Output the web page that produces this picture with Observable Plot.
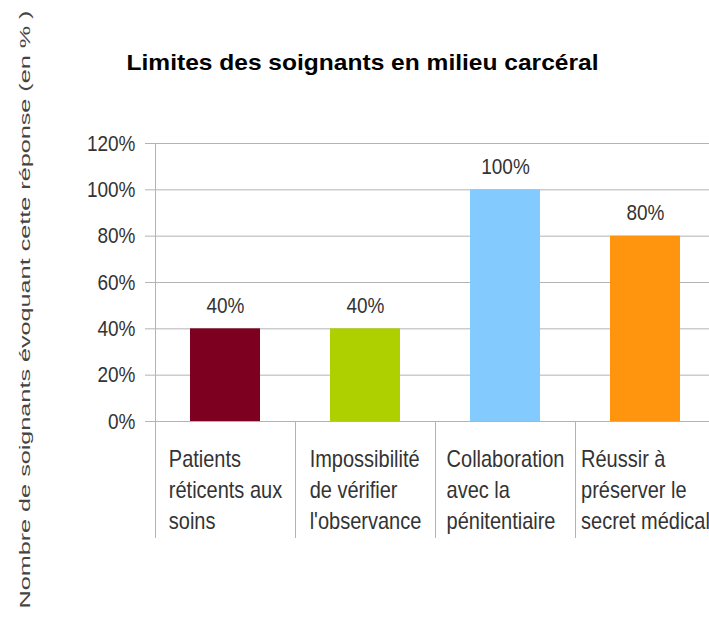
<!DOCTYPE html>
<html><head><meta charset="utf-8">
<script src="https://cdn.jsdelivr.net/npm/d3@7"></script>
<script src="https://cdn.jsdelivr.net/npm/@observablehq/plot@0.6"></script>
<style>
html,body{margin:0;padding:0;background:#fff;overflow:hidden;}
#chart svg{overflow:hidden;display:block;}
</style></head><body><div id="chart"></div>
<script>
const title = "Limites des soignants en milieu carcéral";
const yTitle = "Nombre de soignants évoquant cette réponse (en % )";
const categories = [
  "Patients\nréticents aux\nsoins",
  "Impossibilité\nde vérifier\nl'observance",
  "Collaboration\navec la\npénitentiaire",
  "Réussir à\npréserver le\nsecret médical"
];
const values = [40, 40, 100, 80];
const yTicks = [0, 20, 40, 60, 80, 100, 120];
const palette = ["#7e0021", "#aecf00", "#83caff", "#ff950e"];

const table = categories.map((c, i) => ({category: c, index: i, value: values[i]}));

const labelFont = 20;
const stretch = 1.2;
const ctx = document.createElement("canvas").getContext("2d");
ctx.font = `${labelFont}px "Liberation Sans"`;
const blockWidth = c => d3.max(c.split("\n"), l => ctx.measureText(l).width);

const chart = Plot.plot({
  width: 709, height: 617,
  marginLeft: 155, marginRight: -6, marginTop: 143, marginBottom: 196,
  style: {fontFamily: '"Liberation Sans", Arial, sans-serif', background: "#fff", overflow: "hidden"},
  x: {type: "linear", domain: [0, categories.length], axis: null, label: null},
  y: {domain: [0, 120], axis: null, label: null},
  color: {domain: categories, range: palette},
  marks: [
    Plot.gridY({ticks: yTicks, stroke: "#b3b3b3", strokeOpacity: 1}),
    Plot.ruleX([0], {stroke: "#b3b3b3"}),
    Plot.axisX({ticks: d3.range(categories.length + 1), tickSize: 117, tickFormat: () => "", stroke: "#b3b3b3", label: null}),
    Plot.axisY({ticks: yTicks, tickSize: 10, tickPadding: 10, tickFormat: d => d + "%", fontSize: 19, stroke: "#b3b3b3", fill: "#333", label: null}),
    Plot.rectY(table, {x1: "index", x2: d => d.index + 1, y: "value", fill: "category", insetLeft: 35, insetRight: 35}),
    Plot.text(table, {x: d => d.index + 0.5, y: "value", text: d => d.value + "%", lineAnchor: "bottom", dy: -16, fontSize: 19, fill: "#333"}),
    ...table.map(row => Plot.text([row], {
      x: d => d.index + 0.5, frameAnchor: "bottom", text: "category",
      textAnchor: "start", lineAnchor: "top", lineHeight: 1.29, fontSize: labelFont, fill: "#333",
      dx: -blockWidth(row.category) / 2, dy: 24
    })),
    Plot.text([title], {text: d => d, frameAnchor: "top", textAnchor: "middle", dx: -73, dy: -74, lineAnchor: "bottom", fontSize: 22, fontWeight: "bold", fill: "#000"}),
    Plot.text([yTitle], {text: d => d, frameAnchor: "left", textAnchor: "middle", rotate: -90, dx: -126, dy: 27, lineAnchor: "bottom", fontSize: 15, fill: "#444"})
  ]
});

const svg = d3.select(chart);
svg.selectAll("text").each(function() {
  const s = this.textContent;
  if (s === yTitle) {
    this.setAttribute("textLength", 598);
    this.setAttribute("lengthAdjust", "spacingAndGlyphs");
  } else if (s === title) {
    this.setAttribute("textLength", 472);
    this.setAttribute("lengthAdjust", "spacingAndGlyphs");
  } else {
    const tr = this.getAttribute("transform") || "";
    this.setAttribute("transform", tr + ` scale(1,${stretch})`);
  }
});
document.getElementById("chart").appendChild(chart);
</script></body></html>
